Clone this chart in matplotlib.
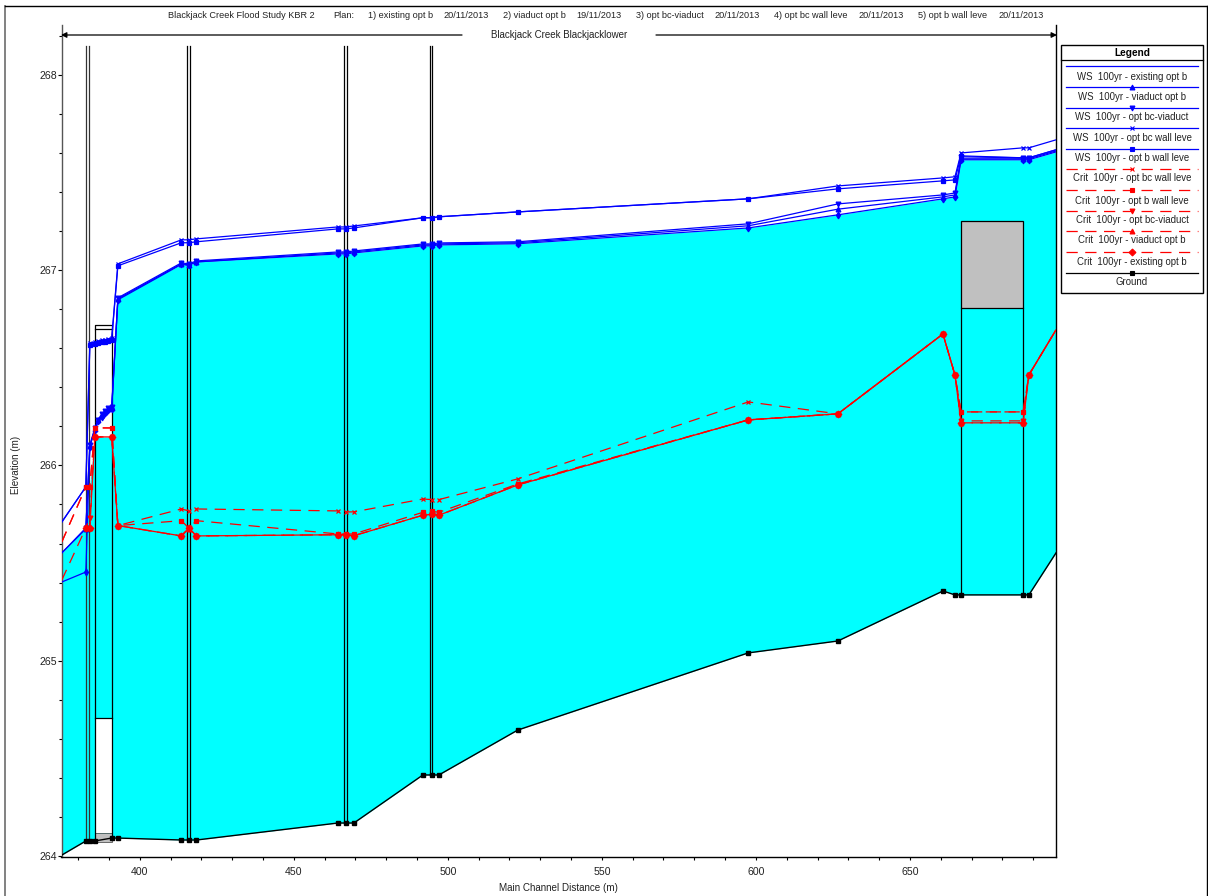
"""Blackjack Creek longitudinal profile, HEC-RAS style."""

import matplotlib
matplotlib.use("Agg")
import matplotlib.pyplot as plt
from matplotlib.patches import Rectangle

plt.rcParams["font.family"] = ["Liberation Sans", "DejaVu Sans"]

BLUE = "#0000ff"
RED = "#ff0000"
CYAN = "#00ffff"
GREY = "#c0c0c0"
NA = float("nan")

# Stations of the crit and ground series
stations = [374.7, 382.5, 383.8, 385.4, 390.9, 392.9, 413.5, 415.9, 418.4, 464.3, 466.8, 469.5,
            491.9, 494.8, 497.1, 522.7, 597.5, 626.6, 660.7, 664.6, 666.6, 686.7, 688.6, 697.4]

# WS series have extra points inside the first culvert
ws_stations = [374.7, 382.5, 383.8, 385.4, 386.5, 387.6, 388.7, 389.8, 390.9, 392.9, 413.5, 415.9,
               418.4, 464.3, 466.8, 469.5, 491.9, 494.8, 497.1, 522.7, 597.5, 626.6, 660.7, 664.6,
               666.6, 686.7, 688.6, 697.4]

ws_existing = [265.403, 265.454, 266.095, 266.180, 266.225, 266.250, 266.270, 266.285, 266.290, 266.848,
               267.029, 267.024, 267.042, 267.083, 267.083, 267.088, 267.124, 267.124, 267.129, 267.135,
               267.216, 267.283, 267.365, 267.375, 267.565, 267.565, 267.565, 267.605]
ws_viaduct = [265.552, 265.675, 266.100, 266.185, 266.230, 266.257, 266.275, 266.288, 266.295, 266.853,
              267.032, 267.027, 267.042, 267.088, 267.088, 267.093, 267.129, 267.129, 267.134, 267.140,
              267.227, 267.312, 267.375, 267.385, 267.570, 267.570, 267.570, 267.610]
ws_bc_viaduct = [265.552, 265.680, 266.105, 266.190, 266.235, 266.262, 266.280, 266.292, 266.300, 266.858,
                 267.037, 267.032, 267.047, 267.093, 267.093, 267.098, 267.134, 267.134, 267.139, 267.145,
                 267.237, 267.339, 267.385, 267.395, 267.580, 267.575, 267.575, 267.616]
ws_bc_wall = [265.710, 265.890, 266.627, 266.632, 266.636, 266.640, 266.644, 266.648, 266.653, 267.032,
              267.155, 267.155, 267.160, 267.221, 267.221, 267.226, 267.268, 267.268, 267.273, 267.298,
              267.365, 267.431, 267.472, 267.478, 267.600, 267.626, 267.626, 267.667]
ws_b_wall = [265.710, 265.890, 266.617, 266.622, 266.626, 266.630, 266.634, 266.638, 266.643, 267.022,
             267.140, 267.140, 267.145, 267.211, 267.211, 267.216, 267.268, 267.268, 267.273, 267.298,
             267.365, 267.416, 267.457, 267.462, 267.585, 267.575, 267.575, 267.616]

crit_bc_wall = [265.608, 265.890, 265.890, 266.192, 266.192, 265.692, 265.777, 265.767, 265.777, 265.767,
                265.762, 265.762, 265.828, 265.825, 265.825, 265.931, 266.325, 266.264, 266.673, 266.463,
                266.274, 266.274, 266.463, 266.694]
crit_b_wall = [265.608, 265.890, 265.890, 266.192, 266.192, 265.692, 265.717, 265.680, 265.717, 265.649,
               265.649, 265.649, 265.760, 265.765, 265.760, 265.905, 266.233, 266.264, 266.673, 266.463,
               266.274, 266.274, 266.463, 266.694]
crit_bc_viaduct = [NA, 265.680, 265.731, 266.146, 266.146, 265.692, 265.639, 265.680, 265.639, 265.645,
                   265.645, 265.640, 265.745, 265.750, 265.745, 265.900, 266.233, 266.264, 266.673, 266.463,
                   266.228, 266.228, 266.463, 266.694]
crit_viaduct = [NA, 265.680, 265.680, 266.146, 266.146, 265.692, 265.639, 265.675, 265.639, 265.645,
                265.645, 265.640, 265.745, 265.750, 265.745, 265.900, 266.233, 266.264, 266.673, 266.463,
                266.218, 266.218, 266.463, 266.694]
crit_existing = [265.413, 265.680, 265.680, 266.146, 266.146, 265.692, 265.639, 265.680, 265.639, 265.645,
                 265.645, 265.640, 265.745, 265.750, 265.745, 265.900, 266.233, 266.264, 266.673, 266.463,
                 266.218, 266.218, 266.463, 266.694]

ground = [264.005, 264.077, 264.077, 264.077, 264.092, 264.092, 264.082, 264.082, 264.082, 264.169,
          264.169, 264.169, 264.415, 264.415, 264.415, 264.645, 265.040, 265.101, 265.357, 265.337,
          265.337, 265.337, 265.337, 265.552]

# Water fill outline (390.9 twice: the surface jumps at the culvert wall)
water_x = [374.7, 382.5, 383.8, 385.4, 390.9, 390.9, 392.9, 413.5, 415.9, 418.4, 464.3, 466.8, 469.5,
           491.9, 494.8, 497.1, 522.7, 597.5, 626.6, 660.7, 664.6, 666.6, 686.7, 688.6, 697.4]
water_top = [265.552, 265.680, 265.900, 266.146, 266.146, 266.300, 266.858, 267.029, 267.024, 267.042,
             267.083, 267.083, 267.088, 267.124, 267.124, 267.129, 267.135, 267.216, 267.283, 267.365,
             267.375, 267.565, 267.565, 267.565, 267.605]
water_bed = [264.005, 264.077, 264.077, 264.077, 264.092, 264.092, 264.092, 264.082, 264.082, 264.082,
             264.169, 264.169, 264.169, 264.415, 264.415, 264.415, 264.645, 265.040, 265.101, 265.357,
             265.337, 265.337, 265.337, 265.337, 265.552]

# Bridge piers (pairs of vertical lines) with their ground level
bridge_x = [(382.4, 383.6), (415.3, 416.4), (466.2, 467.3), (494.1, 495.0)]
bridge_ground = [264.077, 264.082, 264.169, 264.415]
bridge_colors = ["#333333", "black", "black", "black"]
bridge_top = 268.148

# Culverts: left, right, top of deck, soffit, bottom
culvert1 = (385.5, 390.9, 266.717, 266.700, 264.707, 264.117)
culvert2 = (666.7, 686.7, 267.252, 266.807, 265.337)

ws_series = [
    ("WS  100yr - existing opt b", ws_existing, "d", None),
    ("WS  100yr - viaduct opt b", ws_viaduct, "^", "^"),
    ("WS  100yr - opt bc-viaduct", ws_bc_viaduct, "v", "v"),
    ("WS  100yr - opt bc wall leve", ws_bc_wall, "x", "x"),
    ("WS  100yr - opt b wall leve", ws_b_wall, "s", "s"),
]
crit_series = [
    ("Crit  100yr - opt bc wall leve", crit_bc_wall, "x", 0),
    ("Crit  100yr - opt b wall leve", crit_b_wall, "s", 0),
    ("Crit  100yr - opt bc-viaduct", crit_bc_viaduct, "v", 5),
    ("Crit  100yr - viaduct opt b", crit_viaduct, "^", 10),
    ("Crit  100yr - existing opt b", crit_existing, "D", 0),
]

title_parts = ["Blackjack Creek Flood Study KBR 2", "Plan:", "1) existing opt b", "20/11/2013",
               "2) viaduct opt b", "19/11/2013", "3) opt bc-viaduct", "20/11/2013",
               "4) opt bc wall leve", "20/11/2013", "5) opt b wall leve", "20/11/2013"]
title_px = [168, 333, 368, 443, 503, 576, 636, 714, 774, 858, 918, 998]

W, H = 1208, 896
fig = plt.figure(figsize=(W / 100, H / 100), dpi=100)
ax = fig.add_axes([61.5 / W, 1 - 857 / H, (1056 - 61.5) / W, (857 - 25) / H])
ax.set_xlim(374.6, 697.4)
ax.set_ylim(263.995, 268.255)

# Water and culverts
ax.fill_between(water_x, water_bed, water_top, color=CYAN, lw=0, zorder=1)
l, r, deck_top, soffit, crown, floor = culvert1
ax.add_patch(Rectangle((l, floor), r - l, crown - floor, fc="white", ec="none", zorder=1.5))
ax.add_patch(Rectangle((l, 264.07), r - l, floor - 264.07, fc=GREY, ec="#555555", lw=0.6, zorder=1.5))
ax.plot([l, l, r, r], [264.08, deck_top, deck_top, 264.09], color="black", lw=0.9, zorder=2)
ax.plot([l, r], [soffit, soffit], color="black", lw=0.9, zorder=2)
ax.plot([l, r], [crown, crown], color="black", lw=0.9, zorder=2)

l, r, deck_top, deck_bottom, floor = culvert2
ax.add_patch(Rectangle((l, deck_bottom), r - l, deck_top - deck_bottom, fc=GREY, ec="black", lw=0.9, zorder=1.5))
ax.plot([l, l], [floor, deck_bottom], color="black", lw=0.9, zorder=2)
ax.plot([r, r], [floor, deck_bottom], color="black", lw=0.9, zorder=2)

# Bridges
for (x1, x2), base, col in zip(bridge_x, bridge_ground, bridge_colors):
    for x in (x1, x2):
        ax.plot([x, x], [base, bridge_top], color=col, lw=0.9, zorder=2)

# Ground
ax.plot(stations, ground, color="black", lw=1.0, marker="s", ms=3.4, markevery=list(range(1, 23)), zorder=3)

# Water surfaces and critical depths
for label, values, marker, _ in ws_series:
    ax.plot(ws_stations, values, color=BLUE, lw=0.9, marker=marker, ms=3.4, mew=0.9,
            markevery=list(range(1, 27)), zorder=4)
for label, values, marker, offset in crit_series:
    ax.plot(stations, values, color=RED, lw=0.9, linestyle=(offset, (9, 6)), marker=marker, ms=3.4, mew=0.9,
            markevery=list(range(1, 23)), zorder=5)

# Axes
ax.spines["top"].set_visible(False)
for side in ("left", "right", "bottom"):
    ax.spines[side].set_linewidth(1.0)
ax.spines["left"].set_color("#555555")
ax.set_xticks(range(400, 651, 50))
ax.set_xticks(range(380, 697, 10), minor=True)
ax.set_yticks(range(264, 269))
ax.set_yticks([264 + 0.2 * i for i in range(22)], minor=True)
ax.tick_params(which="major", axis="y", length=3, width=0.8, pad=0.5, labelsize=7.6, labelcolor="#222222")
ax.tick_params(which="minor", axis="y", length=2, width=0.8)
ax.tick_params(which="both", axis="x", length=2.5, width=0.8, pad=5, labelsize=7.6, labelcolor="#222222")

fig.text(558 / W, 1 - 888 / H, "Main Channel Distance (m)", ha="center", va="center", fontsize=7.1, color="#222222")
fig.text(16 / W, 1 - 465 / H, "Elevation (m)", ha="center", va="center", rotation=90, fontsize=7.1, color="#222222")

# Overlay in pixel coordinates for header, reach label and legend
ov = fig.add_axes([0, 0, 1, 1], facecolor="none")
ov.set_xlim(0, W)
ov.set_ylim(H, 0)
ov.axis("off")

# Outer page frame
ov.plot([5, 5], [6, H], color="#777777", lw=1.3)
ov.plot([5, 1207], [6, 6], color="black", lw=1.0)
ov.plot([1207, 1207], [6, H], color="black", lw=1.0)

for text, x in zip(title_parts, title_px):
    ov.text(x, 15.5, text, ha="left", va="center", fontsize=6.6, color="#222222")

ov.annotate("", xy=(61, 35), xytext=(462, 35),
            arrowprops=dict(arrowstyle="-|>", color="black", lw=0.9, shrinkA=0, shrinkB=0, mutation_scale=8))
ov.annotate("", xy=(1057, 35), xytext=(656, 35),
            arrowprops=dict(arrowstyle="-|>", color="black", lw=0.9, shrinkA=0, shrinkB=0, mutation_scale=8))
ov.text(559, 35.5, "Blackjack Creek Blackjacklower", ha="center", va="center", fontsize=7.0, color="#222222")

# Legend
ov.add_patch(Rectangle((1061, 45), 142, 248, fc="white", ec="black", lw=1.0, zorder=10))
ov.plot([1061, 1203], [60.5, 60.5], color="black", lw=0.9, zorder=11)
ov.text(1132, 53, "Legend", ha="center", va="center", fontsize=7.3, fontweight="bold", zorder=11)

leg_line_y = [66, 87.3, 108, 128, 149.3, 169.3, 190, 211.3, 231.3, 251.7, 273.3]
leg_text_y = [76.7, 96.7, 117.3, 138.3, 158.3, 178.3, 200.7, 220.3, 240.3, 262.3, 282.3]
entries = [(lab, BLUE, "-", mk) for lab, _, _, mk in ws_series]
entries += [(lab, RED, (0, (9, 6)), mk) for lab, _, mk, _ in crit_series]
entries.append(("Ground", "black", "-", "s"))
for (label, color, style, marker), ly, ty in zip(entries, leg_line_y, leg_text_y):
    ov.plot([1066, 1198], [ly, ly], color=color, lw=0.9, linestyle=style, zorder=11)
    if marker:
        ov.plot([1132], [ly], color=color, marker=marker, ms=3.5, mew=0.8, zorder=11)
    ov.text(1132, ty, label, ha="center", va="center", fontsize=6.9, color="#222222", zorder=11)

fig.savefig("out.png", dpi=100)
